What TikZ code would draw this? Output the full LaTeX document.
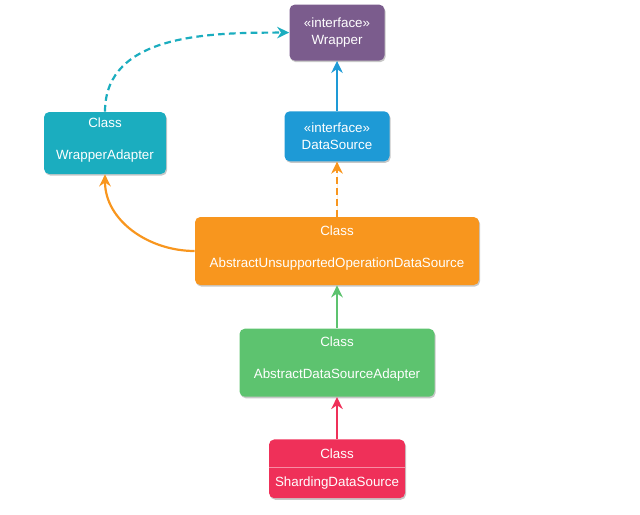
\documentclass[tikz,border=0pt]{standalone}
\usepackage{fontspec}
\setmainfont{Liberation Sans}
\usetikzlibrary{arrows.meta, positioning, shapes.multipart, shadows}
\definecolor{plum}{HTML}{7B5C8D}
\definecolor{skyblue}{HTML}{1E9AD6}
\definecolor{tealc}{HTML}{1BADBF}
\definecolor{orangec}{HTML}{F8961E}
\definecolor{greenc}{HTML}{5DC36F}
\definecolor{rose}{HTML}{EF3059}
\definecolor{lightrose}{HTML}{F78DA4}
\tikzset{
  box/.style={rectangle, rounded corners=3pt, fill=skyblue, text=white, align=center,
    font=\fontsize{7.6}{9.2}\selectfont, inner sep=2pt,
    drop shadow={shadow xshift=0.6pt, shadow yshift=-0.9pt, opacity=0.22, fill=black}},
  boxPlum/.style={box, fill=plum},
  boxTeal/.style={box, fill=tealc},
  boxOrange/.style={box, fill=orangec},
  boxGreen/.style={box, fill=greenc},
  boxRose/.style={box, fill=rose, rectangle split, rectangle split parts=2, inner ysep=5pt},
  arrow/.style={-{Stealth[length=2.4mm, width=2.3mm]}, line width=1.25pt},
  arrowd/.style={arrow, dash pattern=on 3.8pt off 2.4pt},
}

\begin{document}
\begin{tikzpicture}
\useasboundingbox (0,0) rectangle (12.8,-10.28);
\node[boxOrange, minimum width=5.68cm, minimum height=1.36cm] (unsup) at (6.74,-5.02)
  {Class\\[9pt]AbstractUnsupportedOperationDataSource\rule[-5.5pt]{0pt}{0pt}};
\node[boxGreen, minimum width=3.9cm, minimum height=1.36cm, below=0.86cm of unsup] (adapter)
  {Class\\[9pt]AbstractDataSourceAdapter\rule[-5.5pt]{0pt}{0pt}};
\node[boxRose, minimum width=2.72cm, below=0.84cm of adapter] (shard)
  {Class\nodepart{two}ShardingDataSource};
\node[box, minimum width=2.1cm, minimum height=1cm, above=1.1cm of unsup] (dsrc)
  {«interface»\\DataSource};
\node[boxPlum, minimum width=1.9cm, minimum height=1.12cm, above=1cm of dsrc] (wrapper)
  {«interface»\\Wrapper};
\node[boxTeal, minimum width=2.44cm, minimum height=1.24cm] (wadapt) at (2.1,-2.86)
  {Class\\[9pt]WrapperAdapter\rule[-5.5pt]{0pt}{0pt}};

\draw[lightrose, line width=0.5pt] (shard.text split west) -- (shard.text split east);

\draw[arrow, draw=rose, fill=rose] (shard.north) -- (adapter.south);
\draw[arrow, draw=greenc, fill=greenc] (adapter.north) -- (unsup.south);
\draw[arrowd, draw=orangec, fill=orangec] (unsup.north) -- (dsrc.south);
\draw[arrow, draw=skyblue, fill=skyblue] (dsrc.north) -- (wrapper.south);
\draw[arrow, orangec] (unsup.west) to[out=180, in=-90] (wadapt.south);
\draw[arrowd, tealc] (wadapt.north) to[out=90, in=180] (wrapper.west);
\end{tikzpicture}
\end{document}
